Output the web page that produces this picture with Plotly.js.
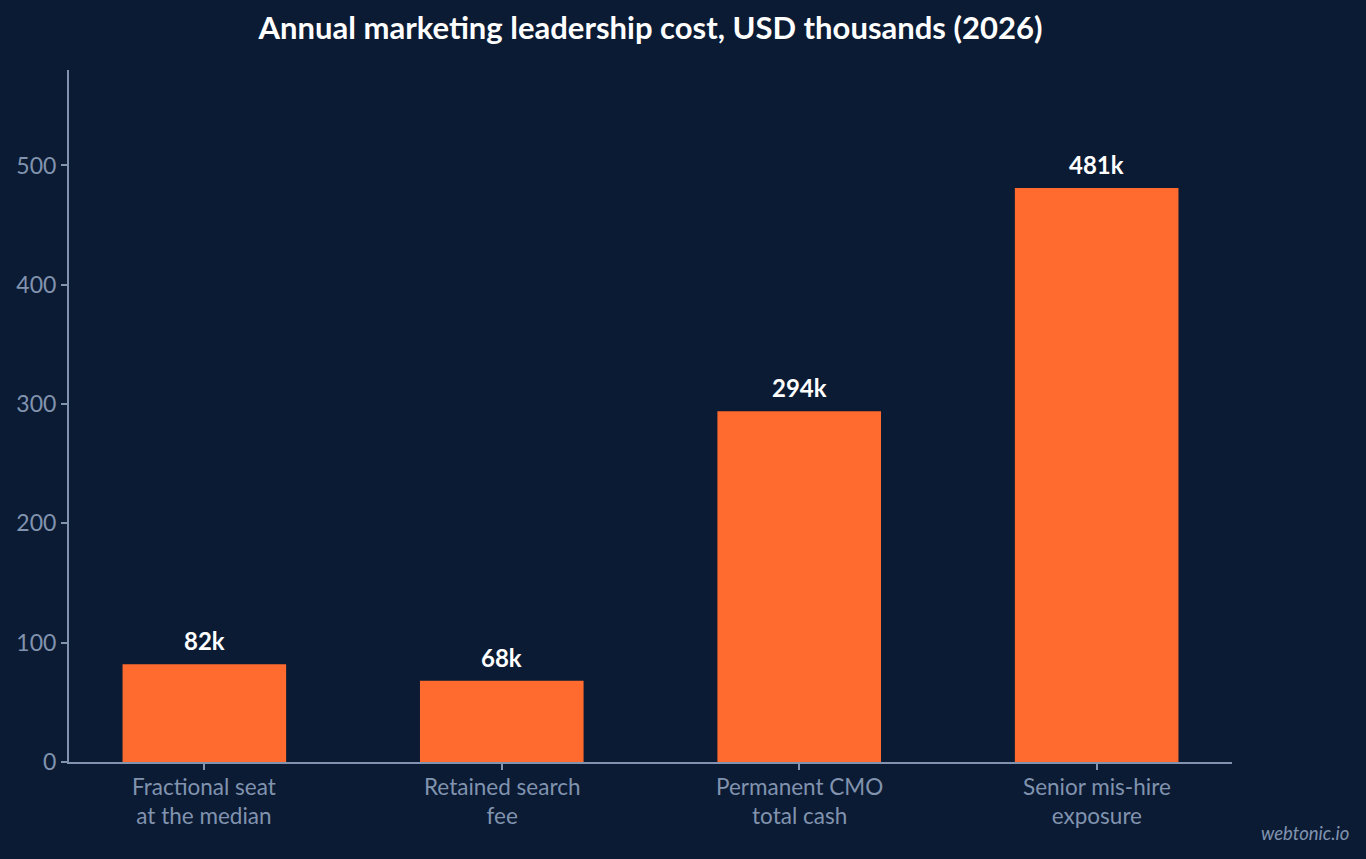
<!DOCTYPE html>
<html>
<head>
<meta charset="utf-8">
<script src="https://cdn.plot.ly/plotly-3.0.1.min.js"></script>
<style>
  html, body { margin: 0; padding: 0; background: #0b1b34; }
  #chart { width: 1366px; height: 859px; }
</style>
</head>
<body>
<div id="chart"></div>
<script>
// categories and values (USD thousands)
const categories = ['Fractional seat<br>at the median', 'Retained search<br>fee', 'Permanent CMO<br>total cash', 'Senior mis-hire<br>exposure'];
const costs = [82, 68, 294, 481];
const costLabels = ['82k', '68k', '294k', '481k'];
const yTicks = [0, 100, 200, 300, 400, 500];

const bg = '#0b1b34';
const muted = '#8193ae';

/**
 * Value labels above each bar, as annotations so the gap can be set.
 */
function valueLabels(){
  return categories.map(function(c, i){
    return {
      x: c, y: costs[i], xref: 'x', yref: 'y',
      text: '<b>' + costLabels[i] + '</b>',
      showarrow: false, yanchor: 'bottom', yshift: 7,
      font: {family: 'Lato, sans-serif', size: 24, color: '#ffffff'}
    };
  });
}

/**
 * Category labels under the axis.
 */
function categoryLabels(){
  return categories.map(function(c){
    return {
      x: c, y: 0, xref: 'x', yref: 'y',
      text: c, showarrow: false,
      yanchor: 'top', yshift: -9,
      font: {family: 'Lato, sans-serif', size: 22.5, color: muted}
    };
  });
}

/**
 * Draws the cost bar chart.
 */
function drawChart(){
  const trace = {
    x: categories,
    y: costs,
    type: 'bar',
    marker: {color: '#ff6b2e'},
    hoverinfo: 'skip'
  };
  const layout = {
    width: 1366,
    height: 859,
    paper_bgcolor: bg,
    plot_bgcolor: bg,
    margin: {l: 69, r: 134, t: 70, b: 97},
    bargap: 0.45,
    showlegend: false,
    font: {family: 'Lato, sans-serif', color: muted},
    title: {
      text: '<b>Annual marketing leadership cost, USD thousands (2026)</b>',
      font: {family: 'Lato, sans-serif', size: 31, color: '#ffffff'},
      xref: 'paper', x: 0.5, xanchor: 'center', y: 0.967, yanchor: 'middle'
    },
    xaxis: {
      range: [-0.455, 3.455],
      showline: true, linecolor: muted, linewidth: 2,
      ticks: 'outside', ticklen: 6, tickwidth: 2, tickcolor: muted,
      showgrid: false, zeroline: false,
      showticklabels: false
    },
    yaxis: {
      range: [0, 580],
      tickvals: yTicks,
      showline: true, linecolor: muted, linewidth: 2,
      ticks: 'outside', ticklen: 6, tickwidth: 2, tickcolor: muted,
      showgrid: false, zeroline: false,
      tickfont: {family: 'Lato, sans-serif', size: 23, color: muted}
    },
    annotations: valueLabels().concat(categoryLabels(), [{
      text: '<i>webtonic.io</i>',
      xref: 'paper', yref: 'paper',
      x: 1.1023, y: -0.1026, xanchor: 'right', yanchor: 'middle',
      showarrow: false,
      font: {family: 'Lato, sans-serif', size: 18.5, color: muted}
    }])
  };
  Plotly.newPlot('chart', [trace], layout, {displayModeBar: false, staticPlot: true});
}

drawChart();
</script>
</body>
</html>
